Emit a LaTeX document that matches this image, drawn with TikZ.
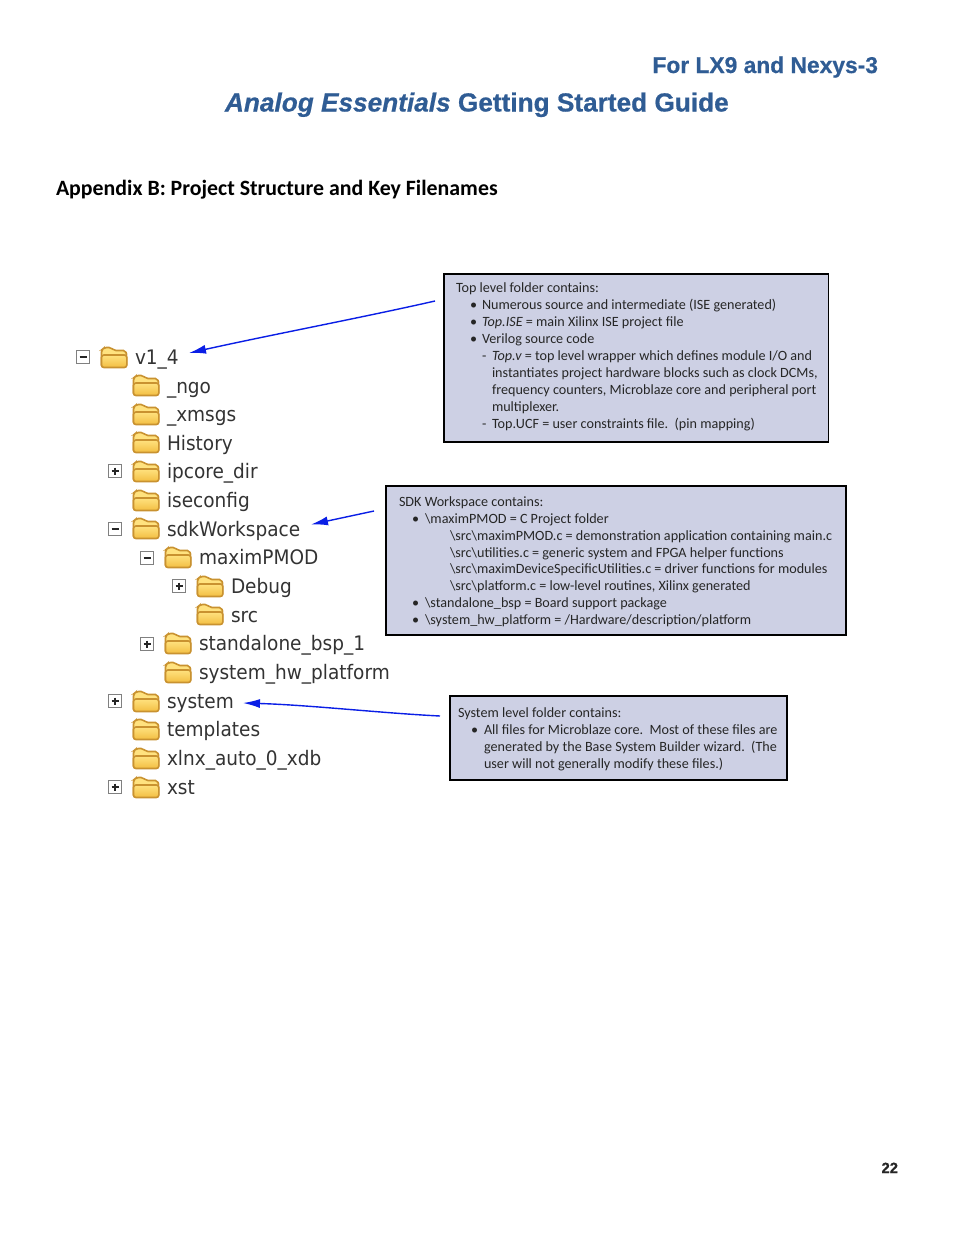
\documentclass[tikz,border=0pt]{standalone}
\usepackage{fontspec}
\setmainfont{Carlito}
\newfontfamily\hfont[BoldFeatures={FakeBold=0.6},BoldItalicFeatures={FakeBold=0.6}]{Liberation Sans}
\newfontfamily\treefont[FakeStretch=0.925]{DejaVu Sans}
\definecolor{titleblue}{HTML}{2F5C94}
\definecolor{boxfill}{HTML}{CDD0E4}
\definecolor{arrowblue}{HTML}{0A1EE6}
\definecolor{foldA}{HTML}{FFE27F}
\definecolor{foldC}{HTML}{F2BE42}
\definecolor{foldB}{HTML}{C99230}
\definecolor{treegray}{HTML}{333333}
\usetikzlibrary{arrows.meta}
\tikzset{
 x=1pt,y=-1pt,
 every node/.style={inner sep=0pt,outer sep=0pt},
 infobox/.style={draw=black,fill=boxfill,line width=1.1pt},
 boxline/.style={anchor=base west,font=\fontsize{14.15}{16}\selectfont,text=black!85},
 treelabel/.style={anchor=base west,font=\treefont\fontsize{20}{22}\selectfont,text=treegray},
 callout/.style={draw=arrowblue,line width=1.4pt,-{Latex[length=17pt,width=9pt]}},
 expander/.style={draw=black!50,fill=white,line width=1.1pt,minimum size=13pt},
}
% folder icon: #1 name, #2 x, #3 y (centre)
\newcommand{\foldericon}[3]{%
 \coordinate (#1) at (#2,#3);
 \begin{scope}[shift={(#2,#3)}]
  \filldraw[draw=foldB,fill=foldA,line width=1.6pt,rounded corners=2pt] (-12.5,9) -- (-12.5,-8) -- (-9.5,-10.5) -- (-3,-10.5) -- (0,-7.5) -- (11.5,-7.5) -- (12.5,-4) -- (12.5,9) -- cycle;
  \filldraw[draw=foldB,top color=foldA,bottom color=foldC,line width=1.6pt,rounded corners=2.5pt] (-12.5,9.5) -- (-12.5,-3) -- (12.8,-3) -- (12.8,9.5) -- cycle;
 \end{scope}}
% expander box: #1 name, #2 x, #3 y, #4 1=plus 0=minus
\newcommand{\expbox}[4]{%
 \node[expander] (#1) at (#2,#3) {};
 \draw[black!85,line width=1.2pt] (#2-3.5,#3) -- (#2+3.5,#3);
 \ifnum#4=1 \draw[black!85,line width=1.2pt] (#2,#3-3.5) -- (#2,#3+3.5);\fi}
\begin{document}
\begin{tikzpicture}
\useasboundingbox (0,0) rectangle (954,1235);
\fill[white] (0,0) rectangle (954,1235);
% headings
\node[anchor=base east,font=\hfont\bfseries\fontsize{22.8}{26}\selectfont,text=titleblue] (t1) at (878,73) {For LX9 and Nexys-3};
\node[anchor=base west,font=\hfont\bfseries\fontsize{26.2}{30}\selectfont,text=titleblue] (t2) at (225,111.5) {\itshape Analog Essentials\upshape{} Getting Started Guide};
\node[anchor=base west,font=\bfseries\fontsize{21.85}{24}\selectfont] (t3) at (56,195) {Appendix B: Project Structure and Key Filenames};
\node[anchor=base east,font=\hfont\bfseries\fontsize{14.8}{16}\selectfont,text=black!85] (pg) at (898,1173) {22};
% tree
\expbox{e1}{83}{357}{0}
\foldericon{f1}{114}{358}
\node[treelabel] (l1) at (135,364) {v1\_4};
\foldericon{f2}{146}{386}\node[treelabel] (l2) at (167,393) {\_ngo};
\foldericon{f3}{146}{415}\node[treelabel] (l3) at (167,421) {\_xmsgs};
\foldericon{f4}{146}{443}\node[treelabel] (l4) at (167,450) {History};
\expbox{e5}{115}{471}{1}
\foldericon{f5}{146}{472}\node[treelabel] (l5) at (167,478) {ipcore\_dir};
\foldericon{f6}{146}{501}\node[treelabel] (l6) at (167,507) {iseconfig};
\expbox{e7}{115}{529}{0}
\foldericon{f7}{146}{529}\node[treelabel] (l7) at (167,536) {sdkWorkspace};
\expbox{e8}{147}{558}{0}
\foldericon{f8}{178}{558}\node[treelabel] (l8) at (199,564) {maximPMOD};
\expbox{e9}{179}{586}{1}
\foldericon{f9}{210}{587}\node[treelabel] (l9) at (231,593) {Debug};
\foldericon{f10}{210}{615}\node[treelabel] (l10) at (231,622) {src};
\expbox{e11}{147}{644}{1}
\foldericon{f11}{178}{644}\node[treelabel] (l11) at (199,650) {standalone\_bsp\_1};
\foldericon{f12}{178}{673}\node[treelabel] (l12) at (199,679) {system\_hw\_platform};
\expbox{e13}{115}{701}{1}
\foldericon{f13}{146}{702}\node[treelabel] (l13) at (167,708) {system};
\foldericon{f14}{146}{730}\node[treelabel] (l14) at (167,736) {templates};
\foldericon{f15}{146}{759}\node[treelabel] (l15) at (167,765) {xlnx\_auto\_0\_xdb};
\expbox{e16}{115}{787}{1}
\foldericon{f16}{146}{788}\node[treelabel] (l16) at (167,794) {xst};
% box 1
\node[infobox,minimum width=384.5pt,minimum height=168pt,anchor=north west] (b1) at (444,274) {};
\node[boxline] at (456,292) {Top level folder contains:};
\node[boxline] at (470,309) {•};\node[boxline] at (482,309) {Numerous source and intermediate (ISE generated)};
\node[boxline] at (470,326) {•};\node[boxline] at (482,326) {\itshape Top.ISE\upshape{} = main Xilinx ISE project file};
\node[boxline] at (470,343) {•};\node[boxline] at (482,343) {Verilog source code};
\node[boxline] at (482,360) {-};\node[boxline] at (492,360) {\itshape Top.v\upshape{} = top level wrapper which defines module I/O and};
\node[boxline] at (492,377) {instantiates project hardware blocks such as clock DCMs,};
\node[boxline] at (492,394) {frequency counters, Microblaze core and peripheral port};
\node[boxline] at (492,411) {multiplexer.};
\node[boxline] at (482,428) {-};\node[boxline] at (492,428) {Top.UCF = user constraints file.\ \ (pin mapping)};
% box 2
\node[infobox,minimum width=460pt,minimum height=149pt,anchor=north west] (b2) at (386,486) {};
\node[boxline] at (399,506) {SDK Workspace contains:};
\node[boxline] at (412,523) {•};\node[boxline] at (425,523) {\textbackslash maximPMOD = C Project folder};
\node[boxline] at (450,540) {\textbackslash src\textbackslash maximPMOD.c = demonstration application containing main.c};
\node[boxline] at (450,557) {\textbackslash src\textbackslash utilities.c = generic system and FPGA helper functions};
\node[boxline] at (450,573) {\textbackslash src\textbackslash maximDeviceSpecificUtilities.c = driver functions for modules};
\node[boxline] at (450,590) {\textbackslash src\textbackslash platform.c = low-level routines, Xilinx generated};
\node[boxline] at (412,607) {•};\node[boxline] at (425,607) {\textbackslash standalone\_bsp = Board support package};
\node[boxline] at (412,624) {•};\node[boxline] at (425,624) {\textbackslash system\_hw\_platform = /Hardware/description/platform};
% box 3
\node[infobox,minimum width=337pt,minimum height=84pt,anchor=north west] (b3) at (450,696) {};
\node[boxline] at (458,717) {System level folder contains:};
\node[boxline] at (471,734) {•};\node[boxline] at (484,734) {All files for Microblaze core.\ \ Most of these files are};
\node[boxline] at (484,751) {generated by the Base System Builder wizard.\ \ (The};
\node[boxline] at (484,768) {user will not generally modify these files.)};
% connectors
\coordinate (c1) at (435,301);
\coordinate (c2) at (374,511);
\coordinate (c3) at (440,716);
\coordinate (h1) at (189,353);
\coordinate (h2) at (311,524.5);
\coordinate (h3) at (243,703);
\draw[callout] (c1) .. controls (360,318) and (270,335) .. (h1);
\draw[callout] (c2) -- (h2);
\draw[callout] (c3) .. controls (380,713) and (310,705) .. (h3);
\end{tikzpicture}
\end{document}
